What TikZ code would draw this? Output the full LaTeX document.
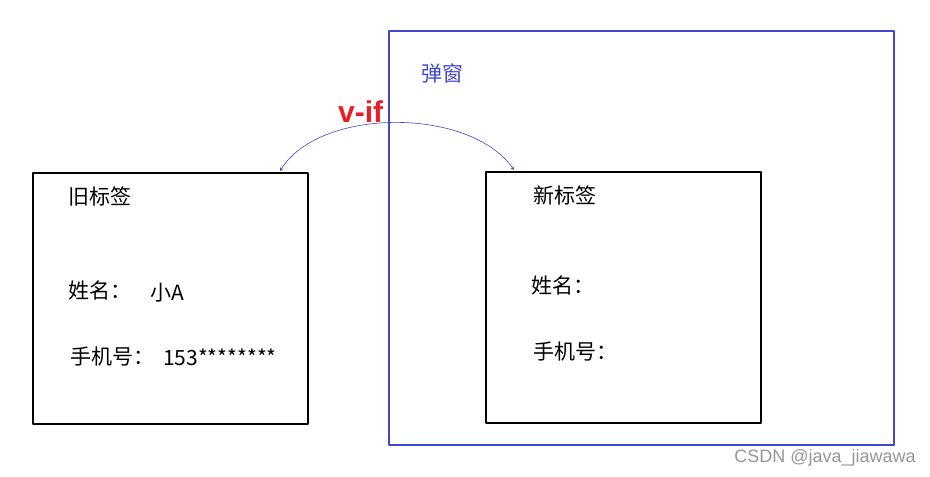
\documentclass[tikz,border=0pt]{standalone}
\usepackage{fontspec}
\setmainfont{Noto Sans CJK SC}
\newfontfamily\arialfont{Liberation Sans}
\usetikzlibrary{positioning}
\definecolor{popblue}{RGB}{64,72,206}
\definecolor{ifred}{RGB}{237,28,36}
\definecolor{markgray}{RGB}{150,150,150}
\begin{document}
\begin{tikzpicture}[x=1pt, y=-1pt, line join=round, >=stealth, font=\fontsize{21}{24}\selectfont]
				\tikzset{tagbox/.style={draw=black, line width=2.6pt, minimum width=275pt, minimum height=251pt, inner sep=0pt},
					txt/.style={anchor=west, inner sep=0pt}}
				\useasboundingbox (0,0) rectangle (930,477);
				%Hop thoai
				\node[draw=popblue, line width=2.6pt, minimum width=505pt, minimum height=414pt, inner sep=0pt] (popup) at (641.5,238) {};
				\node[txt, text=popblue] (popname) at (421,73) {弹窗};
				%Nhan cu
				\node[tagbox] (oldtag) at (170.5,298.5) {};
				\node[txt] (oldname) at (68,196) {旧标签};
				\node[txt] (oldk1) at (68,290) {姓名：};
				\node[txt] (oldv1) at (150,293) {小A};
				\node[txt] (oldk2) at (70,357) {手机号：};
				\node[txt] (oldv2) at (163,357) {153********};
				%Nhan moi
				\node[tagbox] (newtag) at (623.5,297.5) {};
				\node[txt] (newname) at (533,195) {新标签};
				\node[txt] (newk1) at (531,285) {姓名：};
				\node[txt] (newk2) at (533,352) {手机号：};
				%Mui ten v-if
				\coordinate (pL) at (280,171);
				\coordinate (pR) at (514,170);
				\draw[popblue, line width=0.6pt, <->] (pL) .. controls (320,107) and (470,107) .. (pR);
				\node[anchor=west, inner sep=0pt, text=ifred, font=\arialfont\bfseries\fontsize{30}{32}\selectfont] (vif) at (338,112) {v-if};
				\node[anchor=east, inner sep=0pt, text=markgray, font=\arialfont\fontsize{18}{20}\selectfont] (mark) at (916,458) {CSDN @java\_jiawawa};
			\end{tikzpicture}
\end{document}
